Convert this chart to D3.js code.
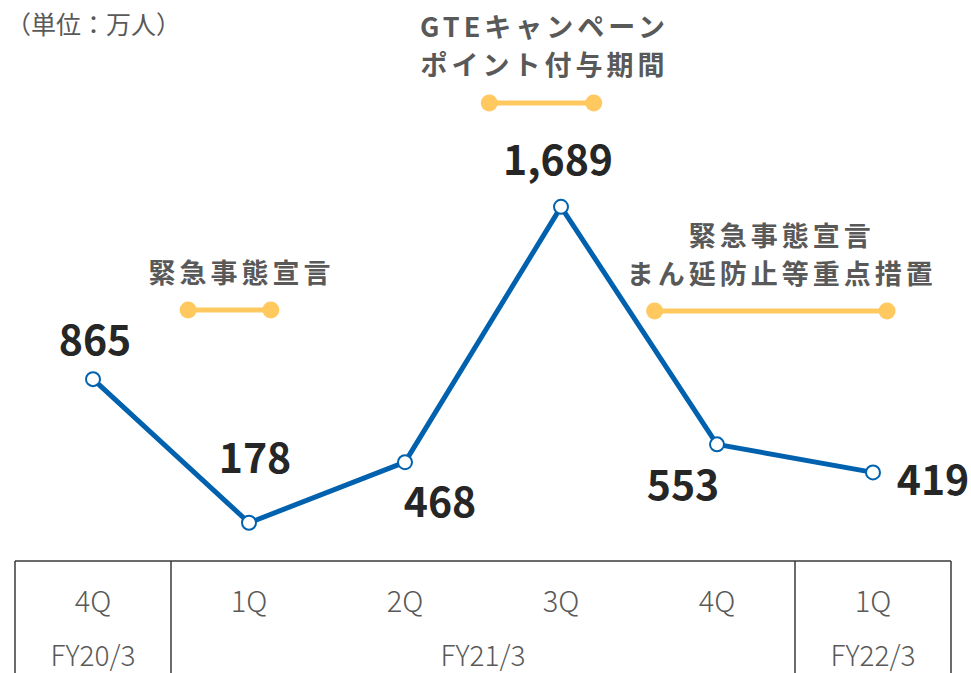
<!DOCTYPE html>
<html>
<head>
<meta charset="utf-8" />
<title>GTE chart</title>
<style>
* { padding: 0; margin: 0; }
body { background: #fff; }
#chart { width: 971px; height: 673px; }
</style>
</head>
<body>
<div id="chart"></div>
<script src="https://cdn.jsdelivr.net/npm/d3@7"></script>
<script>
    // data
    var quarters = ["4Q", "1Q", "2Q", "3Q", "4Q", "1Q"]
    var values = [865, 178, 468, 1689, 553, 419]
    var fiscalYears = ["FY20/3", "FY21/3", "FY22/3"]
    var fyStart = [0, 1, 5]
    var fyEnd = [0, 4, 5]
    // periods, in quarter-index units
    var periodNames = [["緊急事態宣言"], ["GTEキャンペーン", "ポイント付与期間"], ["緊急事態宣言", "まん延防止等重点措置"]]
    var periodFrom = [0.61, 2.54, 3.6]
    var periodTo = [1.14, 3.21, 5.09]

    var width = 971, height = 673
    var jp = "'Noto Sans CJK JP', 'Noto Sans', sans-serif"
    var svg = d3.select("#chart").append("svg")
        .attr("width", width).attr("height", height)

    var x = d3.scalePoint().domain(d3.range(values.length)).range([15, 951]).padding(0.5)
    var step = x.step()
    var y = d3.scaleLinear().domain([0, 2000]).range([560, 141.8])

    // table under the chart
    var tableTop = 561
    var grid = svg.append("g").attr("stroke", "#3a3a3a").attr("stroke-width", 1.5)
    grid.append("line").attr("x1", x(0) - step / 2).attr("x2", x(5) + step / 2)
        .attr("y1", tableTop).attr("y2", tableTop)
    var bounds = [x(0) - step / 2].concat(fyEnd.map(function(e) { return x(e) + step / 2 }))
    grid.selectAll(".v").data(bounds).enter().append("line")
        .attr("x1", function(d) { return d }).attr("x2", function(d) { return d })
        .attr("y1", tableTop).attr("y2", height)

    svg.append("g").selectAll("text").data(quarters).enter().append("text")
        .attr("x", function(d, i) { return x(i) })
        .attr("y", 612)
        .attr("text-anchor", "middle")
        .attr("font-family", jp).attr("font-weight", 300)
        .attr("font-size", 29).attr("fill", "#595959")
        .text(function(d) { return d })

    svg.append("g").selectAll("text").data(fiscalYears).enter().append("text")
        .attr("x", function(d, i) { return (x(fyStart[i]) + x(fyEnd[i])) / 2 })
        .attr("y", 666)
        .attr("text-anchor", "middle")
        .attr("font-family", jp).attr("font-weight", 300)
        .attr("font-size", 28).attr("fill", "#595959")
        .text(function(d) { return d })

    // unit
    svg.append("text").attr("x", 6).attr("y", 34)
        .attr("font-family", jp).attr("font-size", 25).attr("fill", "#595959")
        .text("（単位：万人）")

    // period annotations
    var xi = d3.scaleLinear().domain([0, 5]).range([x(0), x(5)])
    var barY = [310, 103, 311]
    var textY = [[283], [37, 75], [246, 284]]
    var textDx = [12, 3, 11]
    var yellow = "#FFC960"
    periodNames.forEach(function(lines, k) {
        var x1 = xi(periodFrom[k]), x2 = xi(periodTo[k])
        var g = svg.append("g")
        g.append("line").attr("x1", x1).attr("x2", x2).attr("y1", barY[k]).attr("y2", barY[k])
            .attr("stroke", yellow).attr("stroke-width", 5)
        g.selectAll("circle").data([x1, x2]).enter().append("circle")
            .attr("cx", function(d) { return d }).attr("cy", barY[k]).attr("r", 8.5)
            .attr("fill", yellow)
        g.selectAll("text").data(lines).enter().append("text")
            .attr("x", (x1 + x2) / 2 + textDx[k])
            .attr("y", function(d, j) { return textY[k][j] })
            .attr("text-anchor", "middle")
            .attr("font-family", jp).attr("font-weight", 700)
            .attr("font-size", 27).attr("letter-spacing", 4)
            .attr("fill", "#595959")
            .text(function(d) { return d })
    })

    // line + markers
    var line = d3.line().x(function(d, i) { return x(i) }).y(function(d) { return y(d) })
    svg.append("path").datum(values).attr("d", line)
        .attr("fill", "none").attr("stroke", "#0062AE").attr("stroke-width", 5)
        .attr("stroke-linejoin", "round")
    svg.append("g").selectAll("circle").data(values).enter().append("circle")
        .attr("cx", function(d, i) { return x(i) }).attr("cy", function(d) { return y(d) })
        .attr("r", 7).attr("fill", "#fff").attr("stroke", "#0062AE").attr("stroke-width", 2)

    // value labels
    var labelDx = [2, 6, 35, -3, -34, 60]
    var labelDy = [-24, -50, 55, -32, 56, 23]
    svg.append("g").selectAll("text").data(values).enter().append("text")
        .attr("x", function(d, i) { return x(i) + labelDx[i] })
        .attr("y", function(d, i) { return y(d) + labelDy[i] })
        .attr("text-anchor", "middle")
        .attr("font-family", jp).attr("font-weight", 700)
        .attr("font-size", 41).attr("fill", "#262626")
        .text(function(d) { return d3.format(",")(d) })
</script>
</body>
</html>
